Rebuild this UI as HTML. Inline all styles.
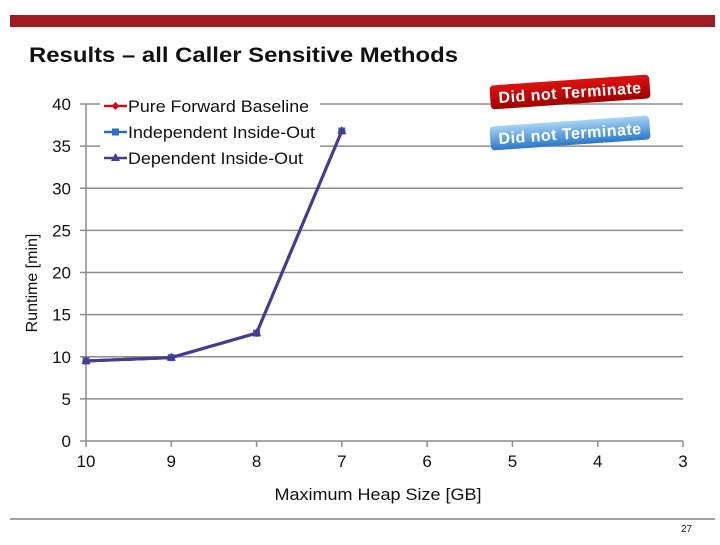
<!DOCTYPE html>
<html><head><meta charset="utf-8"><style>
body{margin:0;width:720px;height:540px;background:#fff;overflow:hidden;font-family:"Liberation Sans",sans-serif}
</style></head><body>
<svg width="720" height="540" xmlns="http://www.w3.org/2000/svg" font-family="Liberation Sans, sans-serif">
<defs>
<linearGradient id="rg" x1="0" y1="0" x2="0" y2="1"><stop offset="0" stop-color="#e01010"/><stop offset="1" stop-color="#a00000"/></linearGradient>
<linearGradient id="bg" x1="0" y1="0" x2="0" y2="1"><stop offset="0" stop-color="#a8d4f4"/><stop offset="1" stop-color="#2a78c8"/></linearGradient>
</defs>
<rect x="10" y="15" width="705" height="12" fill="#9e1b20"/>
<text x="29" y="62" font-size="21" font-weight="bold" fill="#111" textLength="429" lengthAdjust="spacingAndGlyphs">Results – all Caller Sensitive Methods</text>
<g id="chart"></g>
<line x1="10" y1="519" x2="715" y2="519" stroke="#444" stroke-width="1"/>
<text x="681" y="532" font-size="10" fill="#111">27</text>
</svg>
<script>
const categories=["10","9","8","7","6","5","4","3"];
const yTicks=[0,5,10,15,20,25,30,35,40];
const pureForward=[9.5,9.9,12.8,36.8];
const independentIO=[9.5,9.9,12.8,36.8];
const dependentIO=[9.5,9.9,12.8,36.8];
const NS="http://www.w3.org/2000/svg";
const g=document.getElementById('chart');
const x0=86,xStep=(683-86)/7,yBase=441,yTop=104;
const xs=i=>x0+i*xStep;
const ys=v=>yBase-(v/40)*(yBase-yTop);
function mk(t,a,p){const e=document.createElementNS(NS,t);for(const k in a)e.setAttribute(k,a[k]);(p||g).appendChild(e);return e;}
yTicks.forEach(v=>{
 if(v>0){const l=mk('line',{x1:x0,x2:683,y1:ys(v),y2:ys(v),stroke:'#8c8c8c','stroke-width':1.5});
 
 }
 const tk=mk('line',{x1:x0-6,x2:x0,y1:ys(v),y2:ys(v),stroke:'#8c8c8c','stroke-width':1.5});
 
 
 const t=mk('text',{x:x0-15,y:ys(v)+6,'font-size':17,'text-anchor':'end',fill:'#111'});t.textContent=v;
 
 
});
const ya=mk('line',{x1:x0,x2:x0,y1:yTop,y2:yBase,stroke:'#8c8c8c','stroke-width':1.5});


const xa=mk('line',{x1:x0,x2:683,y1:yBase,y2:yBase,stroke:'#8c8c8c','stroke-width':1.5});


categories.forEach((c,i)=>{
 const tk=mk('line',{x1:xs(i),x2:xs(i),y1:yBase,y2:yBase+6,stroke:'#8c8c8c','stroke-width':1.5});
 
 
 const t=mk('text',{x:xs(i),y:467,'font-size':17,'text-anchor':'middle',fill:'#111'});t.textContent=c;
 
 
});
const xt=mk('text',{x:378,y:500,'font-size':17,'text-anchor':'middle',fill:'#111',textLength:207,lengthAdjust:'spacingAndGlyphs'});xt.textContent='Maximum Heap Size [GB]';


const yt=mk('text',{x:37,y:283,'font-size':16,'text-anchor':'middle',fill:'#111',transform:'rotate(-90 37 283)'});yt.textContent='Runtime [min]';


function marker(type,cx,cy,col,p){
 if(type==='d')return mk('path',{d:`M${cx} ${cy-4}L${cx+4} ${cy}L${cx} ${cy+4}L${cx-4} ${cy}Z`,fill:col},p);
 if(type==='s')return mk('rect',{x:cx-3.5,y:cy-3.5,width:7,height:7,fill:col},p);
 return mk('path',{d:`M${cx} ${cy-5}L${cx+4.5} ${cy+3}L${cx-4.5} ${cy+3}Z`,fill:col},p);
}
const series=[[pureForward,'#c0141c','d','pure-forward'],[independentIO,'#2a6ebd','s','independent-inside-out'],[dependentIO,'#4b3a92','t','dependent-inside-out']];
series.forEach(([vals,col,m,name])=>{
 const sg=mk('g',{});
 
 
 const pl=mk('polyline',{points:vals.map((v,i)=>xs(i)+','+ys(v)).join(' '),fill:'none',stroke:col,'stroke-width':3},sg);
 
 
 vals.forEach((v,i)=>{const p=marker(m,xs(i),ys(v),col,sg);
  
  });
});
const lg=mk('g',{});


mk('rect',{x:100,y:92,width:220,height:80,fill:'#fff'},lg);
[['Pure Forward Baseline','#c0141c','d',181],['Independent Inside-Out','#2a6ebd','s',187],['Dependent Inside-Out','#4b3a92','t',175]].forEach((e,i)=>{
 const y=106+i*26;
 const eg=mk('g',{},lg);
 
 
 mk('line',{x1:104,x2:127,y1:y,y2:y,stroke:e[1],'stroke-width':2.5},eg);
 marker(e[2],115.5,y,e[1],eg);
 const t=mk('text',{x:128,y:y+6,'font-size':17,fill:'#111',textLength:e[3],lengthAdjust:'spacingAndGlyphs'},eg);t.textContent=e[0];
});
function badge(y,fill,name,rot){
 const b=mk('g',{transform:`rotate(${rot} 570 ${y})`});
 
 
 mk('rect',{x:490,y:y-12,width:160,height:24,rx:4,fill:'#fff'},b);
 mk('rect',{x:490,y:y-12,width:160,height:24,rx:4,fill:fill},b);
 const t=mk('text',{x:570,y:y+6,'font-size':16,'font-weight':'bold','text-anchor':'middle',fill:'#fff','letter-spacing':'0.5'},b);t.textContent='Did not Terminate';
}
badge(92,'url(#rg)','did-not-terminate-red','-4');
badge(133,'url(#bg)','did-not-terminate-blue','-4');
</script>
</body></html>
